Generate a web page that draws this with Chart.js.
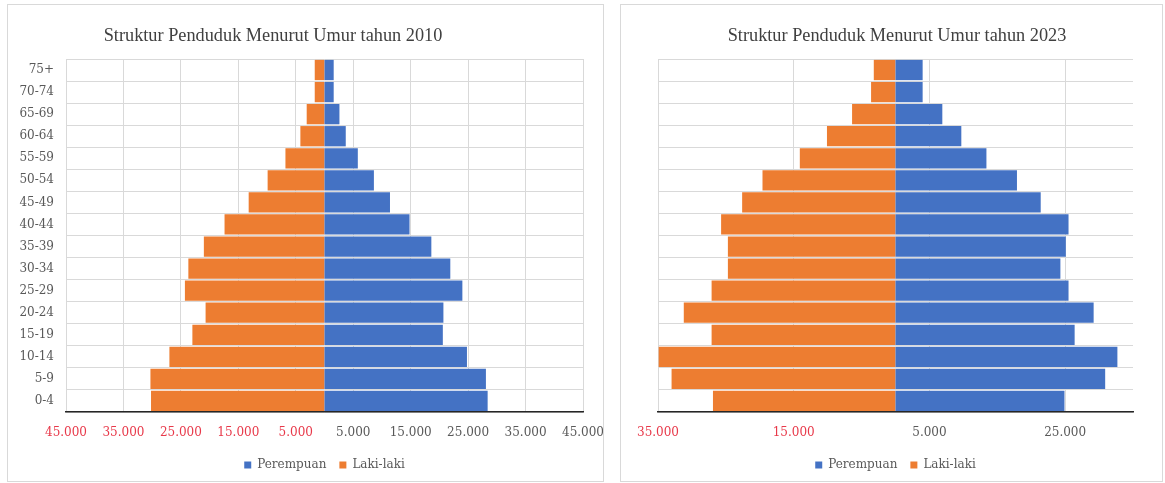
<!DOCTYPE html>
<html>
<head>
<meta charset="utf-8">
<script src="https://cdn.jsdelivr.net/npm/chart.js@4.4.1/dist/chart.umd.min.js"></script>
<style>
html,body{margin:0;padding:0;background:#fff;width:1165px;height:483px;overflow:hidden}
.panel{position:absolute;border:1px solid #d9d9d9;background:#fff;box-sizing:border-box}
#p1{left:7px;top:4px;width:597px;height:478px}
#p2{left:620px;top:4px;width:543px;height:478px}
.wrap{position:absolute;left:0;top:0;width:100%;height:100%}
</style>
</head>
<body>
<div class="panel" id="p1"><div class="wrap"><canvas id="c1"></canvas></div></div>
<div class="panel" id="p2"><div class="wrap"><canvas id="c2"></canvas></div></div>
<script>
// ---- data (age groups listed bottom -> top) ----
const categories = ['0-4','5-9','10-14','15-19','20-24','25-29','30-34','35-39','40-44','45-49','50-54','55-59','60-64','65-69','70-74','75+'];

const perempuan2010 = [28400, 28100, 24800, 20600, 20700, 24000, 21900, 18600, 14800, 11400, 8600, 5800, 3700, 2600, 1600, 1600];
const lakilaki2010  = [30200, 30300, 27000, 23000, 20700, 24300, 23700, 21000, 17400, 13200, 9900, 6800, 4200, 3100, 1700, 1700];

const perempuan2023 = [24900, 30900, 32700, 26400, 29200, 25500, 24300, 25100, 25500, 21400, 17900, 13400, 9700, 6900, 4000, 4000];
const lakilaki2023  = [26900, 33000, 34900, 27100, 31200, 27100, 24700, 24700, 25700, 22600, 19600, 14100, 10100, 6400, 3600, 3200];

const ticks2010 = [-45000, -35000, -25000, -15000, -5000, 5000, 15000, 25000, 35000, 45000];
const ticks2023 = [-35000, -15000, 5000, 25000];

const title2010 = 'Struktur Penduduk Menurut Umur tahun 2010';
const title2023 = 'Struktur Penduduk Menurut Umur tahun 2023';
const seriesNames = ['Perempuan', 'Laki-laki'];

// ---- styling ----
const BLUE = '#4472C4', ORANGE = '#ED7D31';
const SERIF = "'DejaVu Serif', 'Liberation Serif', serif";
const TSERIF = "'Liberation Serif', 'DejaVu Serif', serif";
const GRID = '#d9d9d9';

const panelTitle = {
  id: 'panelTitle',
  afterDraw(chart, args, opts) {
    const ctx = chart.ctx;
    ctx.save();
    ctx.font = opts.font;
    ctx.fillStyle = opts.color;
    ctx.textAlign = 'center';
    ctx.textBaseline = 'middle';
    ctx.fillText(opts.text, opts.x, opts.y);
    ctx.restore();
  }
};

function fmt(v) {
  return Math.abs(v).toLocaleString('de-DE');
}

function makeChart(id, title, titleX, perempuan, laki, tickVals, xmin, xmax, showCats, pad, yWidth) {
  return new Chart(document.getElementById(id), {
    type: 'bar',
    data: {
      labels: categories,
      datasets: [
        { label: seriesNames[0], data: perempuan.slice(), backgroundColor: BLUE, borderWidth: 0,
          barPercentage: 0.92, categoryPercentage: 1.0 },
        { label: seriesNames[1], data: laki.map(v => -v), backgroundColor: ORANGE, borderWidth: 0,
          barPercentage: 0.92, categoryPercentage: 1.0 }
      ]
    },
    plugins: [panelTitle],
    options: {
      indexAxis: 'y',
      responsive: true,
      maintainAspectRatio: false,
      animation: false,
      layout: { padding: { top: 54, right: pad.right, left: pad.left, bottom: 0 } },
      scales: {
        x: {
          stacked: true,
          min: xmin, max: xmax,
          afterBuildTicks(scale) { scale.ticks = tickVals.map(v => ({ value: v })); },
          afterFit(scale) { scale.height = 34; scale.paddingLeft = 0; scale.paddingRight = 0; },
          grid: { color: GRID, lineWidth: 1, drawTicks: false },
          border: { display: true, color: '#262626', width: 1.5 },
          ticks: {
            autoSkip: false, maxRotation: 0, padding: 14,
            font: { family: SERIF, size: 12 },
            color: (c) => (c.tick && c.tick.value < 0) ? '#E8394A' : '#595959',
            callback: (v) => fmt(v)
          }
        },
        y: {
          stacked: true,
          reverse: true,
          afterFit(scale) { scale.width = yWidth; scale.paddingTop = 0; scale.paddingBottom = 0; },
          grid: { color: GRID, lineWidth: 1, drawTicks: false, offset: true },
          border: { display: false },
          ticks: { display: showCats, padding: 12, font: { family: SERIF, size: 12 }, color: '#595959' }
        }
      },
      plugins: {
        panelTitle: { text: title, x: titleX, y: 31, font: "18.3px " + TSERIF, color: '#404040' },
        legend: {
          position: 'bottom',
          fullSize: false,
          labels: { boxWidth: 7, boxHeight: 7, padding: 13, color: '#595959', font: { family: SERIF, size: 12 } }
        },
        tooltip: { enabled: false },
        title: { display: false }
      }
    }
  });
}

makeChart('c1', title2010, 265, perempuan2010, lakilaki2010, ticks2010, -45000, 45000, true, { left: 0, right: 20 }, 58);
makeChart('c2', title2023, 276, perempuan2023, lakilaki2023, ticks2023, -35000, 35000, false, { left: 0, right: 29 }, 37);
</script>
</body>
</html>
